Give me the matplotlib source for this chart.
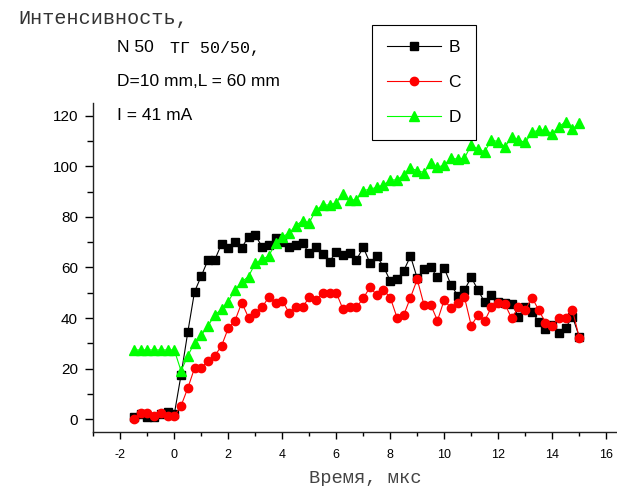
import numpy as np
import matplotlib
matplotlib.use("Agg")
import matplotlib.pyplot as plt
from matplotlib.ticker import MultipleLocator

plt.rcParams['axes.unicode_minus'] = False

# время, мкс (шаг 0.25)
t = np.arange(-1.5, 15.01, 0.25)

b_vals = [1, 2, 1, 1, 2, 3, 2,
          17.5, 34.4, 50.4, 56.6, 63, 63, 69.3, 67.8, 70.2, 67.8, 72.2, 72.8,
          68.2, 68.9, 71.5, 70.2, 68.2, 68.9, 69.6, 65.6, 68.2, 65.3, 62.3, 66.2,
          64.9, 65.9, 63, 68, 61.7, 64.5, 60.3, 54.7, 55.3, 58.7, 64.5, 55.7,
          59.4, 60, 56.1, 59.7, 53.1, 48.9, 51.1, 56.1, 51.1, 46.2, 49.1, 46.5,
          46.1, 45.6, 40.6, 44.3, 42.5, 38.6, 35.6, 37.3, 34.2, 36.2, 40.6, 32.7]

c_vals = [0, 2.4, 2.4, 1.3, 2.4, 1.3, 1.3,
          5.3, 12.3, 20.2, 20.2, 23.2, 25.1, 29, 36, 39, 46.1, 40.2, 42.1,
          44.3, 48.2, 46.1, 46.9, 42.1, 44.3, 44.3, 48.2, 47.2, 50, 50, 50,
          43.5, 44.3, 44.3, 47.8, 52.2, 49.1, 51.1, 48.1, 40.2, 41.2, 48.1, 55.3,
          45.2, 45.2, 39, 47.2, 43.9, 46.1, 48.2, 37, 41.2, 39, 44.3, 46.1,
          45.4, 39.9, 44.3, 43.2, 48.1, 43.2, 38.2, 37, 40.2, 40.2, 43.2, 32.3]

d_vals = [27.4, 27.4, 27.4, 27.4, 27.4, 27.4, 27.4,
          19.1, 25, 30.3, 33.3, 36.9, 41.2, 43.5, 46.5, 51.1, 54.4, 56.4, 61.7,
          63.2, 64.5, 69.6, 72.2, 73.5, 76.5, 78.5, 77.7, 82.7, 84.7, 84.7, 85.6,
          89, 86.7, 86.7, 90.4, 90.9, 91.7, 92.6, 94.6, 94.6, 96.6, 99.2, 98.3,
          97.5, 101.4, 99.6, 100.5, 103.2, 102.8, 103.2, 108.4, 106.7, 105.8, 110.4, 109.7,
          107.7, 111.5, 110.4, 109.4, 113.4, 114.3, 114.3, 112.8, 115.7, 117.6, 114.6, 117.2]

W, H = 617, 486
fig = plt.figure(figsize=(W / 100, H / 100), dpi=100)
ax = fig.add_axes([93.3 / W, 1 - 431.9 / H, (W - 93.3) / W, (431.9 - 103) / H])

ax.plot(t, b_vals, '-s', color='black', lw=0.8, ms=5.5, label='B')
ax.plot(t, c_vals, '-o', color='#ff0000', lw=0.8, ms=6, label='C')
ax.plot(t, d_vals, '-^', color='#00ff00', lw=0.8, ms=6.5, label='D')

ax.set_xlim(-3, 16.4)
ax.set_ylim(-5, 125)
ax.xaxis.set_major_locator(MultipleLocator(2))
ax.xaxis.set_minor_locator(MultipleLocator(1))
ax.yaxis.set_major_locator(MultipleLocator(20))
ax.yaxis.set_minor_locator(MultipleLocator(10))

for s in ['top', 'right']:
    ax.spines[s].set_visible(False)
for s in ['left', 'bottom']:
    ax.spines[s].set_linewidth(1.0)
    ax.spines[s].set_color('#222222')

ax.tick_params(axis='y', which='major', direction='out', length=6, width=1,
               labelsize=11, pad=5, labelfontfamily='Liberation Sans')
ax.tick_params(axis='y', which='minor', direction='out', length=4, width=1)
ax.tick_params(axis='x', which='major', direction='out', length=5, width=1,
               labelsize=9, pad=7, labelfontfamily='Liberation Sans')
ax.tick_params(axis='x', which='minor', direction='out', length=3, width=1)

leg = ax.legend(loc='upper left', bbox_to_anchor=(372 / W, 1 - 25 / H),
                bbox_transform=fig.transFigure, frameon=True, fancybox=False,
                edgecolor='black', framealpha=1, handlelength=3.1,
                labelspacing=1.15, borderpad=0.85, handletextpad=0.45,
                borderaxespad=0, prop={'family': 'Liberation Sans', 'size': 12.5})
leg.get_frame().set_linewidth(0.8)


def ftext(x, y, s, **kw):
    fig.text(x / W, 1 - y / H, s, va='center', **kw)


ftext(18, 19, 'Интенсивность,', family='Liberation Mono', fontsize=14.5,
      color='#333333')
ftext(117, 48, 'N 50', family='Liberation Sans', fontsize=12.5)
ftext(170, 49, 'ТГ 50/50,', family='Liberation Mono', fontsize=12)
ftext(117, 82, 'D=10 mm,L = 60 mm', family='Liberation Sans', fontsize=12.5)
ftext(117, 116, 'I = 41 mA', family='Liberation Sans', fontsize=12.5)
ftext(365, 478, 'Время, мкс', family='Liberation Mono', fontsize=13.5,
      ha='center', color='#444444')

fig.savefig('out.png', dpi=100)
